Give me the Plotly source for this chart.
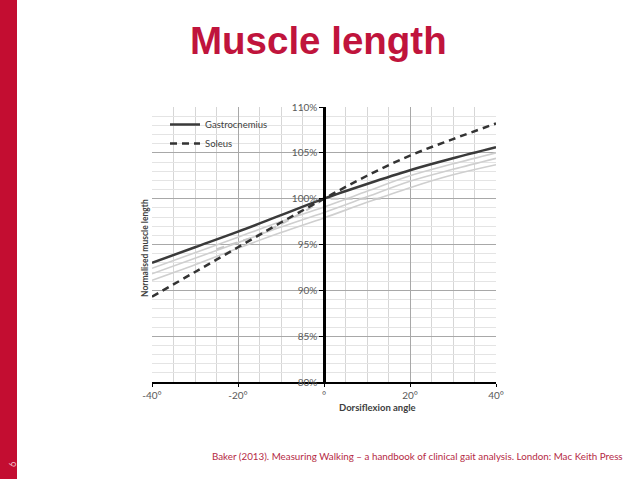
import plotly.graph_objects as go

W, H = 638, 479

# ---- data ----
angles = [-40, -30, -20, -10, 0, 10, 20, 30, 40]
gastrocnemius = [93.0, 94.7, 96.4, 98.2, 100.0, 101.6, 103.1, 104.4, 105.6]
soleus = [89.3, 92.0, 94.7, 97.4, 100.0, 102.5, 104.7, 106.5, 108.2]
gray_a = [92.4, 94.1, 95.8, 97.5, 99.1, 100.8, 102.5, 103.8, 105.0]
gray_b = [91.8, 93.5, 95.2, 96.9, 98.5, 100.2, 101.9, 103.2, 104.4]
gray_c = [91.1, 92.8, 94.6, 96.3, 97.9, 99.6, 101.2, 102.6, 103.7]
gray_dash_x = [-25, -17, -10, -2, 0, 14]
gray_dash_y = [94.5, 95.7, 97.2, 99.3, 100.0, 100.0]

x_tickvals = [-40, -20, 0, 20, 40]
x_ticktext = ["-40°", "-20°", "°", "20°", "40°"]
y_tickvals = [80, 85, 90, 95, 100, 105, 110]
y_ticktext = ["80%", "85%", "90%", "95%", "100%", "105%", "110%"]

# plot area in pixels
px_left, px_right, px_top, px_bot = 152, 496, 107, 382
def fx(p): return p / W
def fy(p): return 1 - p / H

fig = go.Figure()
gray = "#cfcfcf"
for ys in (gray_a, gray_b, gray_c):
    fig.add_trace(go.Scatter(x=angles, y=ys, mode="lines", showlegend=False,
                             line=dict(color=gray, width=1.6, shape="spline"), hoverinfo="skip"))
fig.add_trace(go.Scatter(x=gray_dash_x, y=gray_dash_y, mode="lines", showlegend=False,
                         line=dict(color="#c8c8c8", width=2, dash="8px,6px"), hoverinfo="skip"))
fig.add_trace(go.Scatter(x=angles, y=gastrocnemius, mode="lines", name="Gastrocnemius",
                         line=dict(color="#3a3a3a", width=2.5, shape="spline")))
fig.add_trace(go.Scatter(x=angles, y=soleus, mode="lines", name="Soleus",
                         line=dict(color="#333333", width=2.5, dash="7px,5px", shape="spline")))

axis_font = dict(family="Lato, sans-serif", size=10, color="#595959")

fig.update_layout(
    width=W, height=H,
    margin=dict(l=0, r=0, t=0, b=0, autoexpand=False),
    paper_bgcolor="white", plot_bgcolor="white",
    font=dict(family="Lato, sans-serif"),
    xaxis=dict(domain=[fx(px_left), fx(px_right)], range=[-40, 40],
               tickvals=x_tickvals, ticktext=x_ticktext, tickfont=axis_font,
               showline=True, linecolor="black", linewidth=2,
               ticks="outside", ticklen=3, tickcolor="black",
               showgrid=True, gridcolor="#a8a8a8", gridwidth=1, zeroline=False,
               minor=dict(dtick=5, showgrid=True, gridcolor="#d6d6d6", ticks=""),
               automargin=False, fixedrange=True),
    yaxis=dict(domain=[fy(px_bot), fy(px_top)], range=[80, 110],
               anchor="free", position=fx((px_left + px_right) / 2),
               tickvals=y_tickvals, ticktext=y_ticktext, tickfont=axis_font,
               showline=True, linecolor="black", linewidth=2.5,
               ticks="outside", ticklen=4, tickcolor="black",
               showgrid=True, gridcolor="#a8a8a8", gridwidth=1, zeroline=False,
               minor=dict(dtick=1, showgrid=True, gridcolor="#e4e4e4", ticks=""),
               automargin=False, fixedrange=True),
    legend=dict(x=fx(165), y=fy(110), xanchor="left", yanchor="top",
                bgcolor="rgba(0,0,0,0)", font=dict(family="Lato, sans-serif", size=9.5, color="#404040"),
                tracegroupgap=0),
    showlegend=True,
)

# red side bar
fig.add_shape(type="rect", xref="paper", yref="paper", x0=0, x1=fx(17), y0=0, y1=1,
              fillcolor="#c30d31", line=dict(width=0), layer="below")

annotations = [
    dict(text="<b>Muscle length</b>", x=fx(318), y=fy(41), font=dict(family="Liberation Sans, Arial", size=38.5, color="#c0143c")),
    dict(text="<b>Normalised muscle length</b>", x=fx(145), y=fy(248), textangle=-90,
         font=dict(family="Lato, sans-serif", size=8.5, color="#404040")),
    dict(text="<b>Dorsiflexion angle</b>", x=fx(377), y=fy(407),
         font=dict(family="Lato, sans-serif", size=9.5, color="#404040")),
    dict(text="Baker (2013). Measuring Walking – a handbook of clinical gait analysis. London: Mac Keith Press",
         x=fx(417), y=fy(456), font=dict(family="Lato, sans-serif", size=9.8, color="#b52a45")),
    dict(text="6", x=fx(12), y=fy(465), textangle=-90,
         font=dict(family="Lato, sans-serif", size=9, color="#f3c9d2")),
]
for a in annotations:
    fig.add_annotation(xref="paper", yref="paper", showarrow=False, xanchor="center", yanchor="middle", **a)

fig.write_html("out.html", config={"displayModeBar": False},
               post_script="document.body.style.margin='0';")
